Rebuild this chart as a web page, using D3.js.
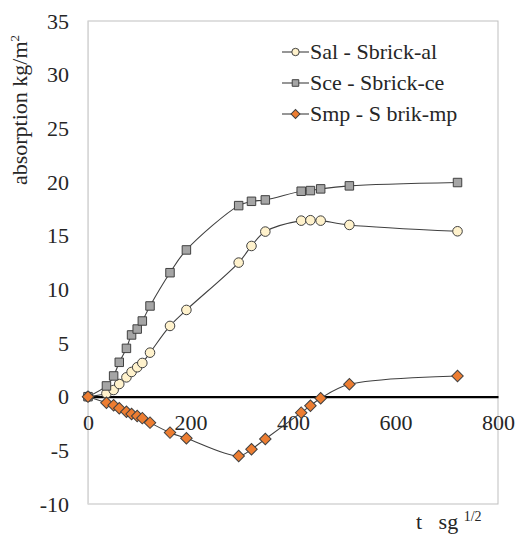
<!DOCTYPE html>
<html>
<head>
<meta charset="utf-8">
<script src="https://cdn.jsdelivr.net/npm/d3@7"></script>
<style>
  body { margin: 0; background: #fff; }
</style>
</head>
<body>
<div id="chart"></div>
<script>
// time values (t, s^1/2), shared by the three series
const times = [0, 36, 50, 61, 75, 85, 96, 106, 121, 160, 192, 294, 319, 346, 416, 434, 454, 510, 721];
const salValues = [0, 0.3, 0.62, 1.18, 1.8, 2.3, 2.74, 3.14, 4.1, 6.59, 8.08, 12.49, 14.04, 15.38, 16.4, 16.44, 16.4, 16.0, 15.41];
const sceValues = [0, 1.0, 1.93, 3.2, 4.5, 5.75, 6.3, 7.05, 8.45, 11.55, 13.67, 17.8, 18.2, 18.33, 19.14, 19.2, 19.36, 19.64, 19.95];
const smpValues = [0, -0.56, -0.8, -1.08, -1.4, -1.61, -1.8, -2.0, -2.42, -3.35, -3.88, -5.53, -4.9, -3.94, -1.49, -0.84, -0.15, 1.15, 1.93];
const seriesNames = ["Sal - Sbrick-al", "Sce - Sbrick-ce", "Smp - S brik-mp"];
const xTicks = [0, 200, 400, 600, 800];
const yTicks = [-10, -5, 0, 5, 10, 15, 20, 25, 30, 35];

const width = 516, height = 534;
const margin = {top: 21, right: 18, bottom: 30, left: 88};
const font = "Liberation Serif";
const fontSize = "22px";

const svg = d3.select("#chart").append("svg")
    .attr("width", width)
    .attr("height", height);

const x = d3.scaleLinear().domain([0, 800]).range([margin.left, width - margin.right]);
const y = d3.scaleLinear().domain([-10, 35]).range([height - margin.bottom, margin.top]);

// plot area border
svg.append("rect")
    .attr("x", x(0)).attr("y", y(35))
    .attr("width", x(800) - x(0)).attr("height", y(-10) - y(35))
    .attr("fill", "none").attr("stroke", "#bfbfbf").attr("stroke-width", 1);

// y axis
svg.append("g")
    .attr("transform", `translate(${x(0)},0)`)
    .call(d3.axisLeft(y).tickValues(yTicks).tickSize(0).tickPadding(19).tickFormat(d => String(d)))
    .call(g => g.select(".domain").attr("stroke", "#d9d9d9"))
    .call(g => g.selectAll("text")
        .style("font-family", font)
        .style("font-size", fontSize)
        .attr("fill", "#262626"));

// x axis at zero
svg.append("g")
    .attr("transform", `translate(0,${y(0)})`)
    .call(d3.axisBottom(x).tickValues(xTicks).tickSize(0).tickPadding(18).tickFormat(d => String(d)))
    .call(g => g.select(".domain").attr("stroke", "#000").attr("stroke-width", 2.2))
    .call(g => g.selectAll("text")
        .style("font-family", font)
        .style("font-size", fontSize)
        .attr("fill", "#262626"));

// axis titles
svg.append("text")
    .attr("transform", `translate(27,110) rotate(-90)`)
    .attr("text-anchor", "middle")
    .style("font-family", font)
    .style("font-size", fontSize)
    .attr("fill", "#262626")
    .html('absorption kg/m<tspan dy="-8" style="font-size:13px">2</tspan>');

svg.append("text")
    .attr("x", 416).attr("y", 529)
    .style("font-family", font)
    .style("font-size", fontSize)
    .attr("fill", "#262626")
    .html('t&#160;&#160;&#160;sg <tspan dy="-8" style="font-size:14px">1/2</tspan>');

const series = [
    {name: seriesNames[0], values: salValues, shape: d3.symbolCircle, size: 72, rot: 0, fill: "#fff2cc"},
    {name: seriesNames[1], values: sceValues, shape: d3.symbolSquare, size: 72, rot: 0, fill: "#a5a5a5"},
    {name: seriesNames[2], values: smpValues, shape: d3.symbolSquare, size: 66, rot: 45, fill: "#ed7d31"}
];

const line = d3.line()
    .x(d => x(d[0]))
    .y(d => y(d[1]))
    .curve(d3.curveCatmullRom.alpha(0.5));

series.forEach(s => {
    const pts = times.map((t, i) => [t, s.values[i]]);
    svg.append("path")
        .datum(pts)
        .attr("d", line)
        .attr("fill", "none")
        .attr("stroke", "#404040")
        .attr("stroke-width", 1.1);
    svg.append("g")
        .selectAll("path")
        .data(pts)
        .join("path")
        .attr("transform", d => `translate(${x(d[0])},${y(d[1])}) rotate(${s.rot})`)
        .attr("d", d3.symbol().type(s.shape).size(s.size))
        .attr("fill", s.fill)
        .attr("stroke", "#404040")
        .attr("stroke-width", 1);
});

// legend
const legend = svg.append("g").attr("transform", "translate(282,52)");
series.forEach((s, i) => {
    const g = legend.append("g").attr("transform", `translate(0,${i * 31})`);
    g.append("line")
        .attr("x1", 0).attr("x2", 27)
        .attr("stroke", "#404040").attr("stroke-width", 1.1);
    g.append("path")
        .attr("transform", `translate(13.5,0) rotate(${s.rot})`)
        .attr("d", d3.symbol().type(s.shape).size(s.size * 0.6))
        .attr("fill", s.fill)
        .attr("stroke", "#404040");
    g.append("text")
        .attr("x", 28).attr("y", 7)
        .style("font-family", font)
        .style("font-size", fontSize)
        .attr("fill", "#262626")
        .text(s.name);
});
</script>
</body>
</html>
